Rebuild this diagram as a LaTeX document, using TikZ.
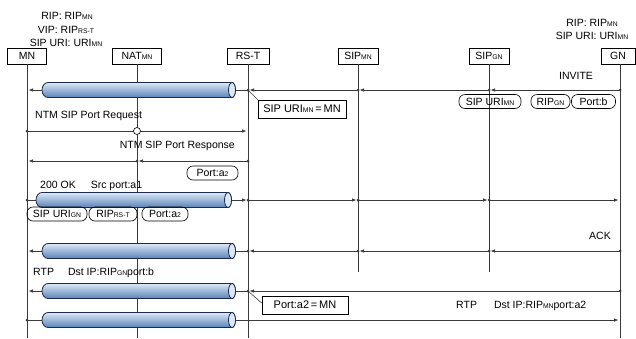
\documentclass[tikz,border=0pt]{standalone}
\usepackage{fontspec}
\setmainfont{Liberation Sans}
\usetikzlibrary{arrows.meta,positioning}

\definecolor{pipetop}{HTML}{DCE8F6}
\definecolor{pipemid}{HTML}{9FBDE2}
\definecolor{pipebot}{HTML}{5A82B8}
\definecolor{pipeedge}{HTML}{1C2A4E}
\definecolor{wire}{HTML}{3A3A3A}

\newcommand{\lo}[1]{{\fontsize{6.8}{6.8}\selectfont #1}}
\newcommand{\pipe}[3]{% left x, right x, y
	\shade[top color=pipetop,middle color=pipemid,bottom color=pipebot,draw=pipeedge,line width=0.8pt]
		(#1+6,#3+7.5) -- (#2,#3+7.5) arc[start angle=90,end angle=-90,x radius=3.5,y radius=7.5]
		-- (#1+6,#3-7.5) arc[start angle=270,end angle=90,x radius=6,y radius=7.5] -- cycle;
	\draw[pipeedge,line width=0.8pt,fill=pipetop] (#2,#3) ellipse[x radius=3.5,y radius=7.5];
}

\tikzset{
	head/.style={draw,line width=0.6pt,minimum height=16pt,inner sep=0pt,font=\fontsize{10.5}{10.5}\selectfont},
	lbl/.style={inner sep=0pt,font=\fontsize{10.5}{10.5}\selectfont},
	pill/.style={draw,line width=0.6pt,rounded corners=6pt,minimum height=14pt,inner sep=0pt,font=\fontsize{10.5}{10.5}\selectfont},
	callout/.style={draw,line width=0.6pt,minimum height=18pt,inner sep=0pt,font=\fontsize{11}{11}\selectfont},
	life/.style={wire,line width=0.75pt},
	msg/.style={wire,line width=0.75pt,shorten >=1.5pt,-{Latex[length=4.5pt,width=3.6pt]}},
}

\begin{document}
\begin{tikzpicture}[x=1pt,y=1pt]
	\useasboundingbox (0,0) rectangle (636,-338);

	% heads
	\node[head,minimum width=39pt] (mn) at (27,-56) {MN};
	\node[head,minimum width=49pt] (nat) at (137,-56) {NAT\lo{MN}};
	\node[head,minimum width=42pt] (rst) at (248,-56) {RS-T};
	\node[head,minimum width=40pt] (sipmn) at (358,-56) {SIP\lo{MN}};
	\node[head,minimum width=40pt] (sipgn) at (489,-56) {SIP\lo{GN}};
	\node[head,minimum width=34pt] (gn) at (618,-56) {GN};

	\node[lbl] (tl1) at (67,-16) {RIP: RIP\lo{MN}};
	\node[lbl] (tl2) at (66,-29.5) {VIP: RIP\lo{RS-T}};
	\node[lbl] (tl3) at (66,-43) {SIP URI: URI\lo{MN}};
	\node[lbl] (tr1) at (592,-22.5) {RIP: RIP\lo{MN}};
	\node[lbl] (tr2) at (592,-35.5) {SIP URI: URI\lo{MN}};

	% lifelines
	\foreach \n/\x/\e in {mn/27/338,nat/137/338,rst/248/338,sipmn/358/272,sipgn/489/272,gn/620/338} {
		\coordinate (\n-end) at (\x,-\e);
		\foreach \r/\y in {inv/90,req/131,res/161,ok/200,ack/251,rtpa/291,rtpb/320}
			\coordinate (\n-\r) at (\x,-\y);
	}
	\foreach \n in {mn,nat,rst,sipmn,sipgn}
		\draw[life] (\n) -- (\n-end);
	\draw[life] (gn.south -| gn-end) -- (gn-end);

	% messages, hop by hop
	\foreach \a/\b in {gn-inv/sipgn-inv,sipgn-inv/sipmn-inv,sipmn-inv/rst-inv,rst-inv/mn-inv,
			mn-req/rst-req,rst-res/nat-res,nat-res/mn-res,
			mn-ok/rst-ok,rst-ok/sipmn-ok,sipmn-ok/sipgn-ok,sipgn-ok/gn-ok,
			gn-ack/sipgn-ack,sipgn-ack/sipmn-ack,sipmn-ack/rst-ack,rst-ack/mn-ack,
			gn-rtpa/rst-rtpa,rst-rtpa/mn-rtpa,mn-rtpb/gn-rtpb} {
		\fill[wire] (\a) circle (1.5);
		\draw[msg] (\a) -- (\b);
	}
	\node[circle,draw=black,fill=white,line width=0.6pt,inner sep=0pt,minimum size=7pt] (natreq) at (nat-req) {};

	\foreach \l/\r/\y in {42/232/-90,36/228/-200,42/232/-251,42/232/-291,42/232/-320} {
		\pipe{\l}{\r}{\y}
	}

	% texts on the messages
	\node[lbl] (invite) at (576,-76) {INVITE};
	\node[pill,minimum width=62pt] (p1) at (490,-101.5) {SIP URI\lo{MN}};
	\node[pill,minimum width=39pt] (p2) at (550.5,-101.5) {RIP\lo{GN}};
	\node[pill,minimum width=44pt] (p3) at (593.5,-101.5) {Port:b};
	\node[callout,minimum width=88pt] (urimn) at (302,-109) {SIP URI\lo{MN}\,=\,MN};
	\draw[wire,line width=0.6pt] (rst-inv) -- (urimn.north west);

	\node[lbl,anchor=west] (reqlbl) at (35,-115.5) {NTM SIP Port Request};
	\node[lbl,anchor=east] (reslbl) at (235,-146) {NTM SIP Port Response};
	\node[pill,minimum width=51pt] (pa) at (212.5,-173) {Port:a\lo{2}};

	\node[lbl,anchor=west] (oklbl) at (40,-186) {200 OK\hspace{15pt}Src port:a1};
	\node[pill,minimum width=60pt] (ok1) at (57,-214) {SIP URI\lo{GN}};
	\node[pill,minimum width=48pt] (ok2) at (113,-214) {RIP\lo{RS-T}};
	\node[pill,minimum width=46pt] (ok3) at (165,-214) {Port:a\lo{2}};

	\node[lbl] (ack) at (600,-236) {ACK};

	\node[lbl,anchor=west] (rtpalbl) at (33,-273) {RTP\hspace{14pt}Dst IP:RIP\lo{GN}port:b};
	\node[callout,minimum width=86pt] (porta) at (305,-305) {Port:a2\,=\,MN};
	\draw[wire,line width=0.6pt] (rst-rtpa) -- ([yshift=2pt]porta.west);
	\node[lbl,anchor=west] (rtpblbl) at (456,-306) {RTP\hspace{17pt}Dst IP:RIP\lo{MN}port:a2};
\end{tikzpicture}
\end{document}
